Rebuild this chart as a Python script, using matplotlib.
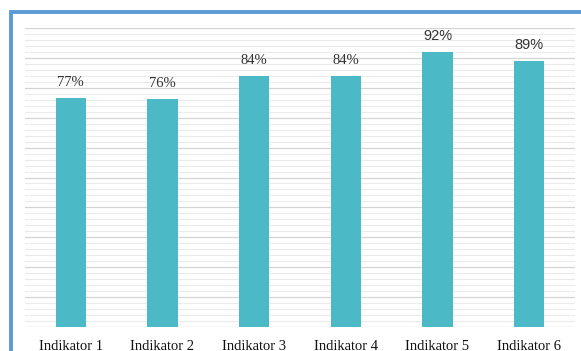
import matplotlib
matplotlib.use('Agg')
from matplotlib import pyplot as plt
from matplotlib.patches import Rectangle

kategori = ['Indikator 1', 'Indikator 2', 'Indikator 3', 'Indikator 4', 'Indikator 5', 'Indikator 6']
nilai = [76.6, 76.4, 84, 84, 92, 89]
label_nilai = ['77%', '76%', '84%', '84%', '92%', '89%']


def main():
    W, H = 581, 351
    fig = plt.figure(figsize=(W / 100, H / 100), dpi=100)

    # blue frame (only top and left visible in the crop)
    fig.patches.append(Rectangle((11 / W, -0.1), 1.2, (H - 12) / H + 0.1,
                                 transform=fig.transFigure, fill=False,
                                 edgecolor='#5B9BD5', linewidth=2.8))

    ax = fig.add_axes([25 / W, 24 / H, 550 / W, 299 / H])
    x = range(len(kategori))
    ax.bar(x, nilai, width=0.33, color='#4BBAC6', zorder=3)

    ax.set_ylim(0, 100)
    ax.set_xlim(-0.5, len(kategori) - 0.5)
    ax.set_yticks(range(0, 101, 10))
    ax.set_yticks(range(0, 101, 2), minor=True)
    ax.grid(axis='y', which='major', color='#D4D4D4', linewidth=0.9, zorder=0)
    ax.grid(axis='y', which='minor', color='#EBEBEB', linewidth=0.8, zorder=0)
    ax.tick_params(axis='y', which='both', left=False, labelleft=False)
    ax.tick_params(axis='x', length=0, pad=9)
    for s in ax.spines.values():
        s.set_visible(False)

    ax.set_xticks(list(x))
    ax.set_xticklabels(kategori, fontfamily='Liberation Serif', fontsize=10.5, color='#111111')

    fonts = ['Liberation Serif', 'Liberation Serif', 'Liberation Serif',
             'Liberation Serif', 'Liberation Sans', 'Liberation Sans']
    for i, v in enumerate(nilai):
        ax.text(i, v + 3, label_nilai[i], ha='center', va='bottom',
                fontsize=10.5, color='#333333', fontfamily=fonts[i])

    fig.savefig('out.png', dpi=100)


if __name__ == '__main__':
    main()
